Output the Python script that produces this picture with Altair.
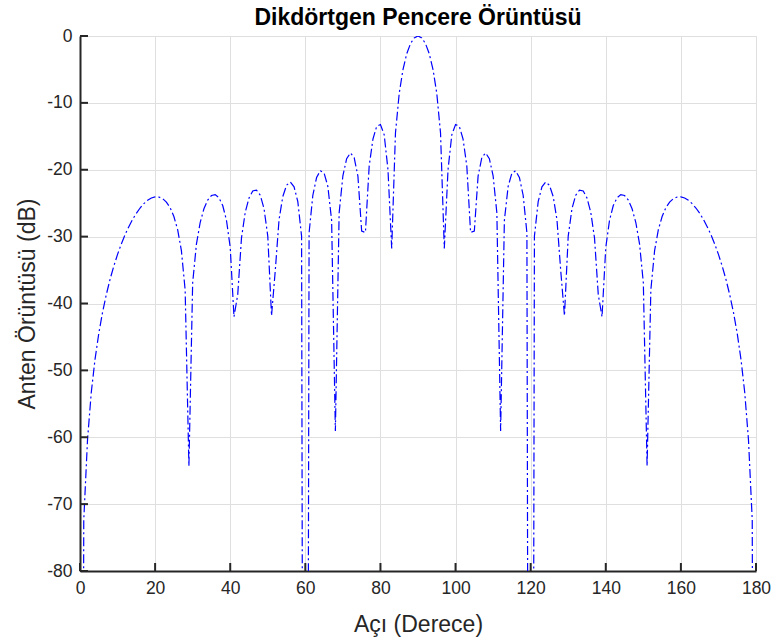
import altair as alt
import pandas as pd

# Angle samples (degrees) and antenna pattern (dB)
angles = list(range(0, 181))
pattern_db = [
    -300, -72.4, -60.4, -53.3, -48.35, -44.48, -41.33, -38.68, -36.4, -34.41,
    -32.65, -31.1, -29.72, -28.51, -27.43, -26.51, -25.72, -25.07, -24.57, -24.23,
    -24.06, -24.08, -24.32, -24.83, -25.68, -26.99, -28.96, -32.1, -37.98, -64.31,
    -36.9, -31.13, -27.89, -25.83, -24.54, -23.85, -23.72, -24.18, -25.35, -27.55,
    -31.61, -41.98, -38.67, -30.19, -26.35, -24.23, -23.18, -23.04, -23.81, -25.8,
    -29.92, -41.82, -35.06, -27.45, -24.01, -22.31, -21.84, -22.55, -24.78, -29.93,
    -300, -29.44, -23.81, -21.16, -20.15, -20.5, -22.5, -27.58, -59.08, -26.46,
    -20.9, -18.35, -17.49, -18.17, -20.96, -29.18, -29.37, -19.46, -15.41, -13.51,
    -13.23, -14.78, -19.96, -31.76, -14.51, -8.57, -5.01, -2.66, -1.14, -0.28,
    0,
    -0.28, -1.14, -2.66, -5.01, -8.57, -14.51, -31.76, -19.96, -14.78, -13.23,
    -13.51, -15.41, -19.46, -29.37, -29.18, -20.96, -18.17, -17.49, -18.35, -20.9,
    -26.46, -59.08, -27.58, -22.5, -20.5, -20.15, -21.16, -23.81, -29.44, -300,
    -29.93, -24.78, -22.55, -21.84, -22.31, -24.01, -27.45, -35.06, -41.82, -29.92,
    -25.8, -23.81, -23.04, -23.18, -24.23, -26.35, -30.19, -38.67, -41.98, -31.61,
    -27.55, -25.35, -24.18, -23.72, -23.85, -24.54, -25.83, -27.89, -31.13, -36.9,
    -64.31, -37.98, -32.1, -28.96, -26.99, -25.68, -24.83, -24.32, -24.08, -24.06,
    -24.23, -24.57, -25.07, -25.72, -26.51, -27.43, -28.51, -29.72, -31.1, -32.65,
    -34.41, -36.4, -38.68, -41.33, -44.48, -48.35, -53.3, -60.4, -72.4, -300,
]
x_ticks = [0, 20, 40, 60, 80, 100, 120, 140, 160, 180]
y_ticks = [0, -10, -20, -30, -40, -50, -60, -70, -80]

W, H = 676, 535
FONT = "Liberation Sans"
AX = "#262626"

df = pd.DataFrame({"angle": angles, "db": pattern_db})
xt_df = pd.DataFrame({"angle": x_ticks})
yt_df = pd.DataFrame({"db": y_ticks})

xscale = alt.Scale(domain=[0, 180], nice=False, zero=False)
yscale = alt.Scale(domain=[-80, 0], nice=False, zero=False)

common_axis = dict(
    grid=True, gridColor="#dfdfdf", gridWidth=1,
    ticks=False, domainColor=AX, domainWidth=2,
    labelFont=FONT, labelFontSize=17.5, labelColor=AX,
    labelFlush=False, labelOverlap=False,
    labelExpr="'' + datum.value",
    titleFont=FONT, titleFontSize=23, titleFontWeight="normal", titleColor=AX,
)
x_axis = alt.Axis(values=x_ticks, title="Açı (Derece)",
                  labelPadding=8, titlePadding=17, **common_axis)
y_axis = alt.Axis(values=y_ticks, title="Anten Örüntüsü (dB)",
                  labelPadding=8, titlePadding=7, **common_axis)

line = alt.Chart(df).mark_line(
    color="#0000ff", strokeWidth=1.2, strokeDash=[9, 3, 2, 3], clip=True
).encode(
    x=alt.X("angle:Q", scale=xscale, axis=x_axis),
    y=alt.Y("db:Q", scale=yscale, axis=y_axis),
)

xtick_marks = alt.Chart(xt_df).mark_rule(color=AX, strokeWidth=2).encode(
    x=alt.X("angle:Q", scale=xscale, axis=x_axis),
    y=alt.value(H), y2=alt.value(H - 8),
)
ytick_marks = alt.Chart(yt_df).mark_rule(color=AX, strokeWidth=2).encode(
    y=alt.Y("db:Q", scale=yscale, axis=y_axis),
    x=alt.value(0), x2=alt.value(8),
)

chart = alt.layer(line, xtick_marks, ytick_marks).properties(
    width=W, height=H,
    title=alt.TitleParams(
        "Dikdörtgen Pencere Örüntüsü", font=FONT, fontSize=23,
        fontWeight="bold", color="#000000", anchor="middle", offset=-3,
    ),
    autosize=alt.AutoSizeParams(type="none"),
    padding={"left": 80, "top": 36, "right": 20, "bottom": 69},
).configure_view(strokeWidth=0).configure(background="white")

chart.save("out.html", embed_options={"renderer": "svg", "actions": False})
